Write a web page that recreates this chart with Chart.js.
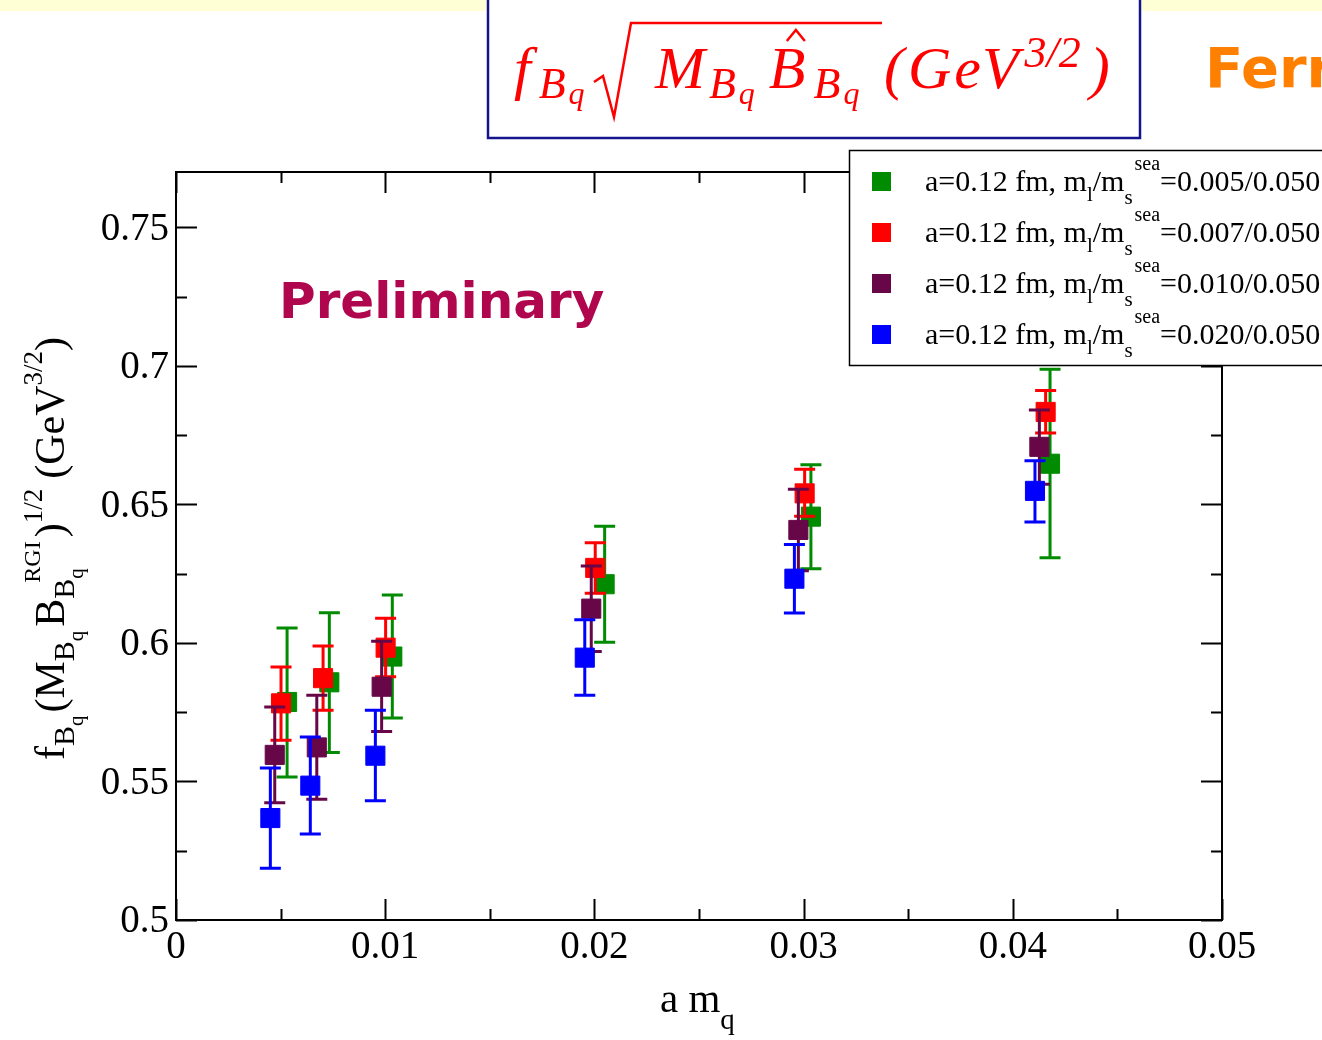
<!DOCTYPE html>
<html>
<head>
<meta charset="utf-8">
<script src="https://cdn.jsdelivr.net/npm/chart.js@4.4.1/dist/chart.umd.min.js"></script>
<style>
html, body { margin: 0; padding: 0; background: #fff; overflow: hidden; }
</style>
</head>
<body>
<canvas id="myChart" width="1322" height="1040"></canvas>
<script>
// a m_q and f_B sqrt(M_B B_B) values (error bar ends as lo/hi)
var greenX  = [0.00531, 0.00733, 0.01034, 0.02049, 0.03035, 0.04178];
var greenY  = [0.5787, 0.5858, 0.5951, 0.6212, 0.6456, 0.6647];
var greenLo = [0.5516, 0.5605, 0.5729, 0.6003, 0.6268, 0.6308];
var greenHi = [0.6054, 0.6109, 0.6173, 0.6421, 0.6643, 0.6988];

var redX  = [0.00502, 0.00703, 0.01002, 0.02004, 0.03005, 0.04157];
var redY  = [0.5782, 0.5873, 0.5983, 0.6271, 0.6540, 0.6834];
var redLo = [0.5649, 0.5757, 0.5878, 0.6179, 0.6457, 0.6758];
var redHi = [0.5913, 0.5989, 0.6089, 0.6362, 0.6627, 0.6911];

var purpleX  = [0.00472, 0.00673, 0.00983, 0.01985, 0.02975, 0.04127];
var purpleY  = [0.5596, 0.5623, 0.5842, 0.6124, 0.6408, 0.6708];
var purpleLo = [0.5423, 0.5436, 0.5680, 0.5969, 0.6261, 0.6573];
var purpleHi = [0.5769, 0.5811, 0.6006, 0.6278, 0.6555, 0.6841];

var blueX  = [0.00451, 0.00642, 0.00953, 0.01954, 0.02956, 0.04106];
var blueY  = [0.5368, 0.5485, 0.5593, 0.5947, 0.6232, 0.6549];
var blueLo = [0.5187, 0.5310, 0.5430, 0.5811, 0.6108, 0.6437];
var blueHi = [0.5549, 0.5661, 0.5757, 0.6084, 0.6355, 0.6658];

var seaLabels = ['0.005/0.050', '0.007/0.050', '0.010/0.050', '0.020/0.050'];

var xTicks = [0, 0.01, 0.02, 0.03, 0.04, 0.05];
var xTickLabels = ['0', '0.01', '0.02', '0.03', '0.04', '0.05'];
var yTicks = [0.5, 0.55, 0.6, 0.65, 0.7, 0.75];
var yTickLabels = ['0.5', '0.55', '0.6', '0.65', '0.7', '0.75'];

var SERIF = '"Liberation Serif", "Times New Roman", serif';

function pts(xs, ys) {
    return xs.map(function (x, i) { return { x: x, y: ys[i] }; });
}

function makeSet(name, color, xs, ys, lo, hi, order) {
    return {
        label: name,
        data: pts(xs, ys),
        errLo: lo,
        errHi: hi,
        order: order,
        pointStyle: 'rect',
        pointRadius: 13.5,
        pointHoverRadius: 13.5,
        backgroundColor: color,
        borderColor: color,
        borderWidth: 1,
        showLine: false
    };
}

// draw a row of text pieces (for sub/superscripts)
function runs(ctx, x, y, parts) {
    parts.forEach(function (p) {
        ctx.font = (p.it ? 'italic ' : '') + p.s + 'px ' + SERIF;
        if (p.x !== undefined) x = p.x;
        if (p.back) x -= p.back;
        ctx.fillText(p.t, x, y + (p.dy || 0));
        x += ctx.measureText(p.t).width + (p.gap || 0);
    });
    return x;
}

var decor = {
    id: 'decor',
    beforeDraw: function (chart) {
        var ctx = chart.ctx;
        ctx.save();
        ctx.fillStyle = '#fff';
        ctx.fillRect(0, 0, chart.width, chart.height);
        // pale strip at the top
        ctx.fillStyle = '#ffffd6';
        ctx.fillRect(0, 0, chart.width, 11);

        // title box
        ctx.fillStyle = '#fff';
        ctx.fillRect(487, -5, 654, 144);
        ctx.strokeStyle = '#14148c';
        ctx.lineWidth = 2.5;
        ctx.strokeRect(488, -5, 652, 143);

        ctx.fillStyle = '#ff0000';
        ctx.strokeStyle = '#ff0000';
        ctx.textBaseline = 'alphabetic';
        ctx.textAlign = 'left';
        var base = 88;
        runs(ctx, 514, base, [
            { t: 'f', s: 60, it: true, gap: 8 },
            { t: 'B', s: 44, it: true, dy: 10, gap: 3 },
            { t: 'q', s: 32, it: true, dy: 16 }
        ]);
        // radical sign
        ctx.lineWidth = 2.5;
        ctx.beginPath();
        ctx.moveTo(594, 82);
        ctx.lineTo(603, 76);
        ctx.lineTo(614, 117);
        ctx.lineTo(631, 23);
        ctx.lineTo(882, 23);
        ctx.stroke();
        var x = runs(ctx, 655, base, [
            { t: 'M', s: 60, it: true, gap: 4 },
            { t: 'B', s: 44, it: true, dy: 10, gap: 3 },
            { t: 'q', s: 32, it: true, dy: 16, gap: 14 }
        ]);
        var hatX = x + 27;
        runs(ctx, x, base, [
            { t: 'B', s: 60, it: true, gap: 8 },
            { t: 'B', s: 44, it: true, dy: 10, gap: 3 },
            { t: 'q', s: 32, it: true, dy: 16 }
        ]);
        // hat over B
        ctx.lineWidth = 2.5;
        ctx.beginPath();
        ctx.moveTo(hatX - 9, 41);
        ctx.lineTo(hatX, 30);
        ctx.lineTo(hatX + 9, 41);
        ctx.stroke();
        runs(ctx, 884, base, [
            { t: '(', s: 60, it: true, gap: 4 },
            { t: 'G', s: 60, it: true, gap: 3 },
            { t: 'e', s: 60, it: true, gap: 1 },
            { t: 'V', s: 60, it: true, gap: 6 },
            { t: '3/2', s: 44, it: true, dy: -21, gap: 9 },
            { t: ')', s: 60, it: true }
        ]);

        // cut-off heading on the right
        ctx.fillStyle = '#ff7f00';
        ctx.font = 'bold 56px "DejaVu Sans"';
        ctx.fillText('Ferr', 1205, 87);
        ctx.restore();
    },
    beforeDatasetDraw: function (chart, args) {
        var ds = chart.data.datasets[args.index];
        var ctx = chart.ctx;
        var xs = chart.scales.x, ys = chart.scales.y;
        ctx.save();
        ctx.strokeStyle = ds.borderColor;
        ctx.lineWidth = 3;
        ds.data.forEach(function (p, j) {
            var px = xs.getPixelForValue(p.x);
            var top = ys.getPixelForValue(ds.errHi[j]);
            var bot = ys.getPixelForValue(ds.errLo[j]);
            ctx.beginPath();
            ctx.moveTo(px, top);
            ctx.lineTo(px, bot);
            ctx.moveTo(px - 10.5, top);
            ctx.lineTo(px + 10.5, top);
            ctx.moveTo(px - 10.5, bot);
            ctx.lineTo(px + 10.5, bot);
            ctx.stroke();
        });
        ctx.restore();
    },
    afterDraw: function (chart) {
        var ctx = chart.ctx;
        var a = chart.chartArea;
        var xs = chart.scales.x, ys = chart.scales.y;
        ctx.save();
        ctx.strokeStyle = '#000';
        ctx.lineWidth = 2;
        ctx.strokeRect(a.left, a.top, a.right - a.left, a.bottom - a.top);

        // inward ticks on all sides
        ctx.lineWidth = 2;
        ctx.beginPath();
        for (var i = 0; i <= 10; i++) {
            var v = i * 0.005;
            var px = Math.round(xs.getPixelForValue(v)) + 0.5;
            var len = i % 2 === 0 ? 21 : 11;
            ctx.moveTo(px, a.bottom); ctx.lineTo(px, a.bottom - len);
            ctx.moveTo(px, a.top); ctx.lineTo(px, a.top + len);
        }
        for (var k = 0; k <= 10; k++) {
            var vy = 0.5 + k * 0.025;
            if (vy > ys.max) break;
            var py = Math.round(ys.getPixelForValue(vy)) + 0.5;
            var leny = k % 2 === 0 ? 21 : 11;
            ctx.moveTo(a.left, py); ctx.lineTo(a.left + leny, py);
            ctx.moveTo(a.right, py); ctx.lineTo(a.right - leny, py);
        }
        ctx.stroke();

        // tick labels
        ctx.fillStyle = '#000';
        ctx.font = '39px ' + SERIF;
        ctx.textAlign = 'center';
        ctx.textBaseline = 'alphabetic';
        xTicks.forEach(function (v, i) {
            ctx.fillText(xTickLabels[i], xs.getPixelForValue(v), 958);
        });
        ctx.textAlign = 'right';
        ctx.textBaseline = 'middle';
        yTicks.forEach(function (v, i) {
            ctx.fillText(yTickLabels[i], 169, ys.getPixelForValue(v) + 2);
        });

        // axis titles
        ctx.textAlign = 'left';
        ctx.textBaseline = 'alphabetic';
        runs(ctx, 660, 1012, [
            { t: 'a m', s: 41 },
            { t: 'q', s: 29, dy: 17 }
        ]);
        ctx.save();
        ctx.translate(64, 760);
        ctx.rotate(-Math.PI / 2);
        var yx = runs(ctx, 0, 0, [
            { t: 'f', s: 42 },
            { t: 'B', s: 30, dy: 10 },
            { t: 'q', s: 21, dy: 19, gap: 3 },
            { t: '(M', s: 42 },
            { t: 'B', s: 30, dy: 10 },
            { t: 'q', s: 21, dy: 19, gap: 4 },
            { t: 'B', s: 42 }
        ]);
        var subEnd = runs(ctx, yx, 0, [
            { t: 'B', s: 30, dy: 10 },
            { t: 'q', s: 21, dy: 19 }
        ]);
        var supEnd = runs(ctx, yx + 16, 0, [
            { t: 'RGI', s: 24, dy: -24 }
        ]);
        runs(ctx, Math.max(subEnd, supEnd) + 4, 0, [
            { t: ')', s: 42 },
            { t: '1/2', s: 27, dy: -22, gap: 10 },
            { t: '(GeV', s: 42 },
            { t: '3/2', s: 27, dy: -22 },
            { t: ')', s: 42 }
        ]);
        ctx.restore();

        // watermark
        ctx.fillStyle = '#b0064e';
        ctx.font = 'bold 50px "DejaVu Sans"';
        ctx.fillText('Preliminary', 279, 318);

        // legend box
        ctx.fillStyle = '#fff';
        ctx.fillRect(849, 150, 480, 215);
        ctx.strokeStyle = '#000';
        ctx.lineWidth = 1.5;
        ctx.strokeRect(849.5, 150.5, 480, 215);
        var sets = chart.data.datasets;
        sets.forEach(function (ds, i) {
            var cy = 181 + i * 51;
            ctx.fillStyle = ds.backgroundColor;
            ctx.fillRect(872, cy - 9, 19, 19);
            ctx.fillStyle = '#000';
            var lx = runs(ctx, 925, cy + 10, [
                { t: 'a=0.12 fm, m', s: 30 },
                { t: 'l', s: 21, dy: 10 },
                { t: '/m', s: 30 },
                { t: 's', s: 21, dy: 13 }
            ]);
            runs(ctx, lx + 2, cy + 10, [
                { t: 'sea', s: 20, dy: -21, gap: 0 },
                { t: '=' + seaLabels[i], s: 30 }
            ]);
        });
        ctx.restore();
    }
};

var ctx = document.getElementById('myChart').getContext('2d');
var myChart = new Chart(ctx, {
    type: 'scatter',
    data: {
        datasets: [
            makeSet('0.005/0.050', '#008b00', greenX, greenY, greenLo, greenHi, 4),
            makeSet('0.007/0.050', '#ff0000', redX, redY, redLo, redHi, 3),
            makeSet('0.010/0.050', '#670748', purpleX, purpleY, purpleLo, purpleHi, 2),
            makeSet('0.020/0.050', '#0000ff', blueX, blueY, blueLo, blueHi, 1)
        ]
    },
    options: {
        responsive: false,
        animation: false,
        devicePixelRatio: 1,
        layout: {
            padding: { left: 176, right: 100, top: 172, bottom: 120 }
        },
        plugins: {
            legend: { display: false },
            tooltip: { enabled: false }
        },
        scales: {
            x: { type: 'linear', min: 0, max: 0.05, display: false },
            y: { type: 'linear', min: 0.5, max: 0.77, display: false }
        }
    },
    plugins: [decor]
});
</script>
</body>
</html>
